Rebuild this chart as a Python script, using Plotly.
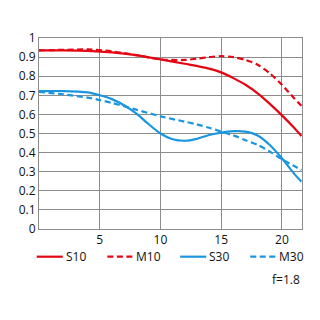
import plotly.graph_objects as go

x_s10 = [0, 2, 4, 6, 8, 10, 12, 14, 15, 16, 17, 18, 19, 20, 21, 21.6]
y_s10 = [0.935, 0.935, 0.933, 0.925, 0.91, 0.888, 0.865, 0.84, 0.82, 0.79, 0.755, 0.71, 0.655, 0.595, 0.53, 0.487]

x_m10 = [0, 2, 4, 6, 8, 10, 12, 13, 14, 15, 16, 17, 18, 19, 20, 21, 21.6]
y_m10 = [0.935, 0.938, 0.94, 0.93, 0.91, 0.888, 0.885, 0.892, 0.9, 0.905, 0.9, 0.885, 0.86, 0.815, 0.755, 0.685, 0.645]

x_s30 = [0, 2, 4, 5, 6, 7, 8, 9, 10, 11, 12, 13, 14, 15, 16, 17, 18, 19, 20, 21, 21.6]
y_s30 = [0.722, 0.722, 0.715, 0.70, 0.68, 0.648, 0.605, 0.55, 0.5, 0.47, 0.462, 0.472, 0.492, 0.505, 0.512, 0.51, 0.49, 0.44, 0.37, 0.29, 0.248]

x_m30 = [0, 2, 4, 5, 6, 8, 10, 12, 13, 14, 15, 16, 17, 18, 19, 20, 21, 21.6]
y_m30 = [0.718, 0.705, 0.688, 0.675, 0.66, 0.625, 0.59, 0.562, 0.548, 0.53, 0.51, 0.49, 0.465, 0.44, 0.405, 0.365, 0.33, 0.308]

names = ["S10", "M10", "S30", "M30"]
x_ticks = [5, 10, 15, 20]
y_ticks = [0, 0.1, 0.2, 0.3, 0.4, 0.5, 0.6, 0.7, 0.8, 0.9, 1]
y_tick_labels = ["0", "0.1", "0.2", "0.3", "0.4", "0.5", "0.6", "0.7", "0.8", "0.9", "1"]
note = "f=1.8"

red = "#e30613"
blue = "#1a96e0"
grid = "#8c8c8c"
font = "Open Sans"
DASH = "6px,3.5px"

series = [
    (x_s10, y_s10, names[0], red, "solid"),
    (x_m10, y_m10, names[1], red, DASH),
    (x_s30, y_s30, names[2], blue, "solid"),
    (x_m30, y_m30, names[3], blue, DASH),
]

fig = go.Figure()
for xs, ys, name, color, dash in series:
    fig.add_trace(go.Scatter(x=xs, y=ys, name=name, mode="lines", showlegend=False,
                             line=dict(color=color, width=2.2, dash=dash, shape="spline", smoothing=0.8)))

# page has an 8px body offset; target plot box in page pixels
OFF = 8
L, R, T, B = 39, 301.7, 38, 229
W, H = R - L, B - T
def px(x):
    return (x - L) / W
def py(y):
    return (B - y) / H

leg_y = 256.7
leg_starts = [36.7, 107.3, 180, 250]
shapes = []
annotations = []
for (xs, ys, name, color, dash), x0 in zip(series, leg_starts):
    shapes.append(dict(type="line", xref="paper", yref="paper",
                       x0=px(x0), x1=px(x0 + 26), y0=py(leg_y), y1=py(leg_y),
                       line=dict(color=color, width=2.2, dash=dash)))
    annotations.append(dict(text=name, xref="paper", yref="paper", x=px(x0 + 27), y=py(leg_y),
                            xanchor="left", yanchor="middle", showarrow=False,
                            font=dict(size=12, family=font, color="#111")))
annotations.append(dict(text=note, x=px(302), xref="paper", xanchor="right", y=py(279), yref="paper",
                        yanchor="middle", showarrow=False, font=dict(size=12, family=font, color="#111")))

fig.update_layout(
    width=320, height=320,
    margin=dict(l=L - OFF, r=320 - (R - OFF), t=T - OFF, b=320 - (B - OFF), autoexpand=False),
    paper_bgcolor="white", plot_bgcolor="white",
    font=dict(family=font, size=12, color="#111"),
    showlegend=False,
    xaxis=dict(range=[0, 21.65], tickvals=x_ticks, ticktext=[str(v) for v in x_ticks],
               showgrid=True, gridcolor=grid, gridwidth=1, zeroline=False, automargin=False,
               showline=True, linecolor=grid, linewidth=1, mirror=True, ticks=""),
    yaxis=dict(range=[0, 1], tickvals=y_ticks, ticktext=y_tick_labels, automargin=False,
               showgrid=True, gridcolor=grid, gridwidth=1, zeroline=False,
               showline=True, linecolor=grid, linewidth=1, mirror=True, ticks=""),
    shapes=shapes,
    annotations=annotations,
)

fig.write_html("out.html")
